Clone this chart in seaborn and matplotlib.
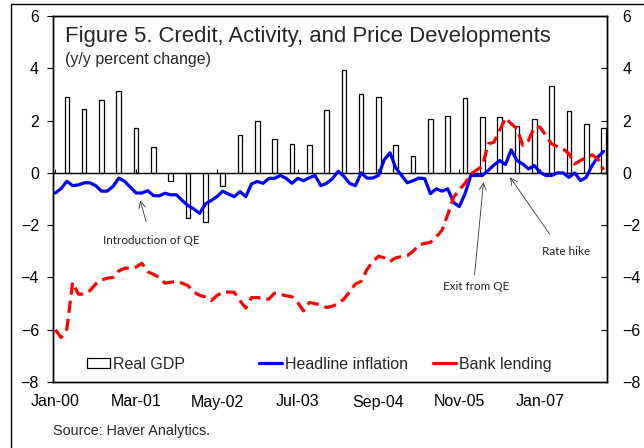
import numpy as np
import pandas as pd
import matplotlib
matplotlib.use("Agg")
import matplotlib.pyplot as plt
from matplotlib.lines import Line2D
from matplotlib.patches import Patch
import seaborn as sns

# monthly axis, Jan-00 .. Dec-07
n_months = 96
tick_labels = ["Jan-00", "Mar-01", "May-02", "Jul-03", "Sep-04", "Nov-05", "Jan-07"]
tick_step = 14

# real GDP, quarterly (placed on the last month of each quarter)
gdp = [2.9, 2.46, 2.8, 3.15, 1.71, 0.97, -0.31, -1.74, -1.87, -0.5, 1.45, 1.97,
       1.3, 1.11, 1.07, 2.39, 3.95, 3.03, 2.9, 1.05, 0.64, 2.05, 2.16, 2.87,
       2.13, 2.13, 1.81, 2.05, 3.32, 2.36, 1.88, 1.72]

# headline inflation, monthly
inflation = [-0.77, -0.6, -0.32, -0.49, -0.46, -0.38, -0.38, -0.49, -0.7, -0.7,
             -0.52, -0.2, -0.32, -0.55, -0.77, -0.77, -0.68, -0.87, -0.88, -0.78,
             -0.84, -0.84, -1.06, -1.25, -1.38, -1.55, -1.19, -1.06, -0.91, -0.7,
             -0.81, -0.91, -0.72, -0.91, -0.42, -0.33, -0.4, -0.21, -0.21, -0.1,
             -0.21, -0.4, -0.21, -0.3, -0.19, -0.1, -0.49, -0.4, -0.23, 0.06,
             -0.13, -0.4, -0.49, 0.0, -0.2, -0.2, -0.1, 0.5, 0.77, 0.19,
             -0.1, -0.38, -0.3, -0.2, -0.22, -0.8, -0.61, -0.7, -0.61, -1.13,
             -1.29, -0.8, -0.1, -0.1, -0.1, 0.09, 0.3, 0.47, 0.32, 0.88,
             0.47, 0.34, 0.15, 0.28, 0.02, -0.1, -0.1, 0.0, 0.0, -0.17,
             0.0, -0.3, -0.17, 0.28, 0.6, 0.82]

# bank lending, monthly
lending = [-6.0, -6.3, -5.98, -4.19, -4.64, -4.64, -4.5, -4.25, -4.1, -4.03,
           -4.0, -3.75, -3.65, -3.64, -3.6, -3.46, -3.78, -3.88, -4.0, -4.22,
           -4.18, -4.16, -4.22, -4.32, -4.57, -4.68, -4.75, -4.89, -4.7, -4.55,
           -4.56, -4.57, -4.89, -5.17, -4.77, -4.77, -4.8, -4.83, -4.6, -4.65,
           -4.7, -4.74, -4.96, -5.28, -4.96, -5.0, -5.05, -5.15, -5.1, -5.0,
           -4.83, -4.55, -4.25, -4.15, -3.7, -3.4, -3.19, -3.25, -3.39, -3.25,
           -3.2, -3.17, -3.0, -2.76, -2.7, -2.66, -2.45, -2.2, -1.6, -0.93,
           -0.65, -0.4, -0.05, 0.11, 0.25, 1.11, 1.17, 1.62, 2.1, 1.88,
           1.69, 1.05, 1.24, 1.75, 1.75, 1.43, 1.11, 1.0, 0.92, 0.73,
           0.34, 0.47, 0.6, 0.69, 0.54, 0.11]

# annotations: label, text position, arrow tail, arrow head (month index, value)
notes = ["Introduction of QE", "Exit from QE", "Rate hike"]
note_text_xy = [(16.6, -2.59), (72.9, -4.36), (88.5, -3.0)]
note_tail_xy = [(15.75, -1.87), (72.65, -3.9), (85.65, -2.34)]
note_head_xy = [(14.7, -1.06), (74.2, -0.36), (78.8, -0.17)]

df_m = pd.DataFrame({"month": np.arange(n_months), "inflation": inflation, "lending": lending})
df_q = pd.DataFrame({"month": np.arange(2, n_months, 3), "gdp": gdp})

sns.set_theme(style="white")
plt.rcParams["font.family"] = ["Liberation Sans", "DejaVu Sans"]

fig = plt.figure(figsize=(6.44, 4.48), dpi=100)
ax = fig.add_axes([53 / 644, 1 - 382 / 448, 554 / 644, 366 / 448])

# bars
sns.barplot(data=df_q, x="month", y="gdp", native_scale=True, width=0.27,
            color="white", edgecolor="black", linewidth=0.9, errorbar=None,
            ax=ax, zorder=2)

# zero axis line with its tick marks
ticks = np.arange(0, n_months, tick_step)
ax.axhline(0, color="black", lw=1, zorder=3)
ax.vlines(ticks, 0, 0.16, color="black", lw=0.8, zorder=3)

# lines
sns.lineplot(data=df_m, x="month", y="inflation", color="#0000FF", lw=2.3,
             ax=ax, zorder=4)
sns.lineplot(data=df_m, x="month", y="lending", color="#FF0000", lw=2.3,
             linestyle=(0, (3.8, 1.9)), ax=ax, zorder=5)

ax.set_xlim(-0.4, 95.6)
ax.set_ylim(-8, 6)
ax.set_yticks(np.arange(-8, 7, 2))
ax.set_xticks(ticks)
ax.set_xticklabels(tick_labels)
ax.set_xlabel("")
ax.set_ylabel("")
ax.tick_params(axis="x", length=0, pad=9, labelsize=11.5, colors="black")
ax.tick_params(axis="y", direction="out", length=4, width=0.8, pad=6,
               labelsize=11.5, colors="black", left=True)
for s in ax.spines.values():
    s.set_color("black")
    s.set_linewidth(1)

ax2 = ax.twinx()
ax2.set_ylim(-8, 6)
ax2.set_yticks(np.arange(-8, 7, 2))
ax2.tick_params(axis="y", direction="in", length=4, width=0.8, pad=11,
                labelsize=11.5, colors="black", right=True)
ax2.grid(False)
for s in ax2.spines.values():
    s.set_color("black")
    s.set_linewidth(1)

# title
ax.text(0.0217, 0.972, "Figure 5. Credit, Activity, and Price Developments",
        transform=ax.transAxes, fontsize=15.9, va="top", ha="left")
ax.text(0.0217, 0.902, "(y/y percent change)", transform=ax.transAxes,
        fontsize=11.5, va="top", ha="left")

# annotations
for label, txy, tail, head in zip(notes, note_text_xy, note_tail_xy, note_head_xy):
    ax.annotate("", xy=head, xytext=tail,
                arrowprops=dict(arrowstyle="->", lw=0.6, color="#333333",
                                shrinkA=0, shrinkB=0), zorder=6)
    ax.text(txy[0], txy[1], label, fontsize=8.4, ha="center", va="center",
            color="#222222", family=["Lato", "DejaVu Sans"], zorder=6)

# legend, three entries placed like the original
handles = [Patch(facecolor="white", edgecolor="black", lw=0.9),
           Line2D([], [], color="#0000FF", lw=2.3),
           Line2D([], [], color="#FF0000", lw=2.3)]
names = ["Real GDP", "Headline inflation", "Bank lending"]
leg_x = [0.0614, 0.372, 0.686]
legends = []
for h, nm, lx in zip(handles, names, leg_x):
    leg = ax.legend([h], [nm], loc="center left", bbox_to_anchor=(lx, 0.049),
                    frameon=False, borderpad=0, borderaxespad=0, fontsize=11.5,
                    handlelength=1.45, handletextpad=0.2, handleheight=0.55)
    legends.append(leg)
for leg in legends[:-1]:
    ax.add_artist(leg)

fig.text(53 / 644, 1 - 431 / 448, "Source: Haver Analytics.", fontsize=10.4,
         va="center", ha="left")

# outer chart border (left and top edges visible)
fig.add_artist(Line2D([11 / 644, 11 / 644], [0, 1 - 4 / 448], transform=fig.transFigure,
                      color="black", lw=1))
fig.add_artist(Line2D([11 / 644, 1], [1 - 4 / 448, 1 - 4 / 448], transform=fig.transFigure,
                      color="black", lw=1))

fig.savefig("out.png", dpi=100)
